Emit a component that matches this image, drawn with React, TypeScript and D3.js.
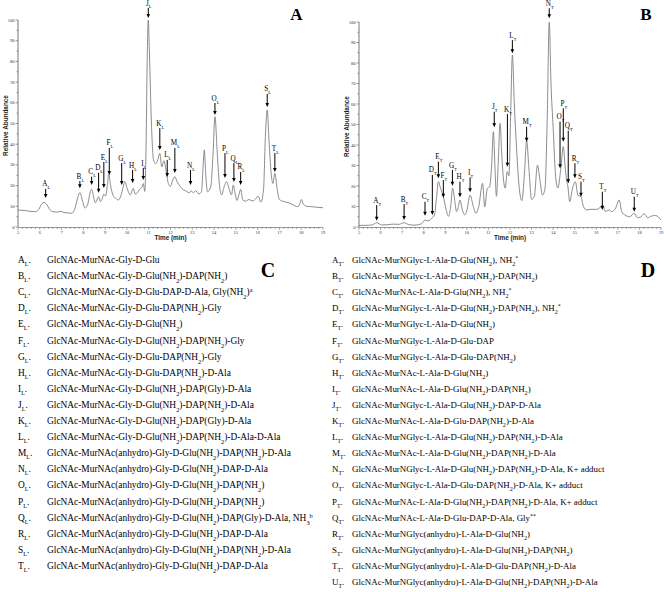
import React from 'react';
import * as d3 from 'd3';

// ---------- data ----------
const timeTicks = [5, 6, 7, 8, 9, 10, 11, 12, 13, 14, 15, 16, 17, 18, 19];
const abundanceTicks = [0, 10, 20, 30, 40, 50, 60, 70, 80, 90, 100];

// chromatogram A: [time (min), relative abundance]
const traceA: [number, number][] = [
  [5.0, 8.2], [5.3, 8.0], [5.6, 7.5], [5.8, 7.4], [5.95, 8.5], [6.1, 11.3], [6.2, 11.9], [6.3, 11.2],
  [6.45, 8.5], [6.6, 7.4], [6.8, 7.2], [6.97, 7.6], [7.1, 7.0], [7.3, 6.8], [7.46, 6.6], [7.6, 8.5],
  [7.75, 14.5], [7.84, 16.6], [7.95, 13], [8.07, 9.2], [8.2, 11], [8.32, 17], [8.38, 18.2], [8.48, 14],
  [8.56, 11.7], [8.64, 13.5], [8.7, 14.6], [8.78, 12.3], [8.86, 13.5], [8.94, 15.8], [9.02, 15], [9.1, 20],
  [9.17, 25.6], [9.25, 20], [9.4, 14.6], [9.5, 13.8], [9.6, 13], [9.7, 14.5], [9.8, 18], [9.9, 21.9],
  [10.0, 19], [10.15, 15.5], [10.29, 18.7], [10.38, 15.9], [10.48, 16.5], [10.58, 18.2], [10.68, 19],
  [10.75, 21], [10.82, 17.2], [10.88, 40], [10.93, 80], [10.98, 100], [11.03, 85], [11.13, 48.5],
  [11.22, 32.4], [11.32, 30.6], [11.42, 32.4], [11.51, 35.6], [11.6, 29], [11.7, 32], [11.8, 27],
  [11.9, 21], [12.0, 19.6], [12.08, 22], [12.2, 24.3], [12.3, 22], [12.45, 19.5], [12.6, 17.9],
  [12.75, 17.2], [12.85, 16.5], [12.95, 17.5], [13.05, 16.5], [13.15, 17.6], [13.3, 16], [13.42, 17],
  [13.5, 30], [13.55, 37.2], [13.62, 25], [13.7, 17], [13.85, 19.5], [13.95, 35], [14.04, 53.3],
  [14.15, 35], [14.25, 20], [14.35, 15.5], [14.45, 19], [14.57, 21.9], [14.7, 18], [14.8, 15.5],
  [14.88, 20.3], [14.97, 16], [15.05, 12.8], [15.15, 16], [15.22, 18.2], [15.32, 13], [15.45, 12.5],
  [15.6, 13.3], [15.75, 12.6], [15.9, 13.5], [16.02, 14.9], [16.15, 12], [16.27, 18], [16.36, 45],
  [16.44, 56.5], [16.52, 42], [16.62, 26], [16.7, 21], [16.79, 25.9], [16.9, 18], [17.0, 13.3],
  [17.2, 12.3], [17.45, 11.6], [17.7, 10.3], [17.85, 9.8], [17.93, 11], [18.01, 13.3], [18.1, 11],
  [18.25, 10], [18.5, 9.8], [18.75, 9.5], [19.0, 9.3],
];

// chromatogram B
const traceB: [number, number][] = [
  [5.0, 0.8], [5.3, 0.8], [5.6, 1.0], [5.82, 2.1], [6.05, 1.0], [6.3, 1.1], [6.6, 1.4], [6.85, 1.3],
  [7.09, 2.1], [7.3, 1.2], [7.6, 0.9], [7.9, 1.6], [8.06, 3.4], [8.2, 3.0], [8.37, 4.2], [8.5, 5.9],
  [8.6, 15], [8.68, 22.1], [8.78, 19], [8.91, 14.8], [9.05, 8], [9.15, 5.2], [9.25, 10], [9.34, 18.9],
  [9.45, 12], [9.52, 7.5], [9.6, 9.5], [9.68, 13.2], [9.8, 8], [9.9, 5.9], [10.0, 8], [10.15, 15.6],
  [10.3, 10], [10.42, 6.7], [10.55, 10], [10.73, 21.3], [10.83, 9.9], [10.95, 18.9], [11.05, 19.5],
  [11.15, 30], [11.23, 46.5], [11.3, 30], [11.37, 15], [11.45, 30], [11.54, 50.6], [11.62, 35],
  [11.7, 22.9], [11.78, 19], [11.87, 27], [11.95, 25], [12.03, 55], [12.11, 83.9], [12.2, 60],
  [12.3, 39], [12.45, 17], [12.55, 12.9], [12.68, 28], [12.77, 42.4], [12.88, 28], [13.0, 13.5],
  [13.13, 15], [13.27, 30.2], [13.4, 22], [13.5, 15.6], [13.62, 18.5], [13.72, 50], [13.82, 100],
  [13.9, 70], [14.0, 48.8], [14.12, 24], [14.22, 19], [14.35, 28], [14.47, 39.2], [14.55, 30],
  [14.62, 22.9], [14.68, 20], [14.77, 12.3], [14.88, 18], [15.03, 22.1], [15.15, 15.5], [15.29, 14.8],
  [15.4, 10.2], [15.55, 8.3], [15.75, 8.6], [15.95, 8.6], [16.1, 8.8], [16.3, 10.8], [16.42, 7.6],
  [16.6, 8.3], [16.72, 7.5], [16.9, 9.3], [17.06, 13.2], [17.18, 7.5], [17.32, 5.9], [17.55, 5.0],
  [17.76, 6.7], [17.9, 4.6], [18.05, 4.8], [18.22, 6.5], [18.38, 4.5], [18.55, 5.3], [18.75, 5.6],
  [19.0, 3.4],
];

// peak labels: [letter, time, arrow tip abundance, arrow tail abundance]
const peaksA: [string, number, number, number][] = [
  ['A', 6.27, 14.0, 18.4], ['B', 7.84, 18.7, 22.2], ['C', 8.38, 20.3, 24.3], ['D', 8.7, 16.6, 26.2],
  ['E', 8.94, 18.8, 31.4], ['F', 9.19, 25.1, 38.2], ['G', 9.76, 20.3, 30.9], ['H', 10.26, 21.3, 27.5],
  ['I', 10.75, 22.7, 28.5], ['J', 10.98, 101, 105.8], ['K', 11.51, 37.2, 47.8], ['L', 11.85, 24.2, 32.4],
  ['M', 12.2, 26.1, 38.2], ['N', 12.92, 20.3, 27.5], ['O', 14.04, 54.1, 59.9], ['P', 14.5, 23.7, 35.7],
  ['Q', 14.91, 21.7, 30.9], ['R', 15.22, 20.3, 26.6], ['S', 16.44, 58.0, 64.3], ['T', 16.79, 26.6, 35.7],
];
const peaksB: [string, number, number, number][] = [
  ['A', 5.82, 3.1, 10.7], ['B', 7.09, 3.4, 11.2], ['C', 8.06, 5.5, 12.3], ['D', 8.4, 5.9, 25.4],
  ['E', 8.68, 23.8, 31.9], ['F', 8.91, 14.3, 22.9], ['G', 9.33, 20.1, 27.8], ['H', 9.68, 14.5, 22.1],
  ['I', 10.15, 16.9, 24.2], ['J', 11.27, 48.6, 56.2], ['K', 11.88, 29.4, 55.1], ['L', 12.11, 84.7, 91.2],
  ['M', 12.77, 41.6, 48.9], ['N', 13.82, 101.8, 106.7], ['O', 14.32, 28.6, 51.4], ['P', 14.47, 41.6, 57.9],
  ['Q', 14.7, 21.3, 47], ['R', 15.01, 23.8, 31.1], ['S', 15.29, 14.8, 22.1], ['T', 16.28, 8.3, 17.2],
  ['U', 17.76, 7.5, 14.8],
];

// tables
const lettersC = ['A','B','C','D','E','F','G','H','I','J','K','L','M','N','O','P','Q','R','S','T'];
const descC = [
  'GlcNAc-MurNAc-Gly-D-Glu',
  'GlcNAc-MurNAc-Gly-D-Glu(NH_{2})-DAP(NH_{2})',
  'GlcNAc-MurNAc-Gly-D-Glu-DAP-D-Ala, Gly(NH_{2})^{a}',
  'GlcNAc-MurNAc-Gly-D-Glu-DAP(NH_{2})-Gly',
  'GlcNAc-MurNAc-Gly-D-Glu(NH_{2})',
  'GlcNAc-MurNAc-Gly-D-Glu(NH_{2})-DAP(NH_{2})-Gly',
  'GlcNAc-MurNAc-Gly-D-Glu-DAP(NH_{2})-Gly',
  'GlcNAc-MurNAc-Gly-D-Glu-DAP(NH_{2})-D-Ala',
  'GlcNAc-MurNAc-Gly-D-Glu(NH_{2})-DAP(Gly)-D-Ala',
  'GlcNAc-MurNAc-Gly-D-Glu(NH_{2})-DAP(NH_{2})-D-Ala',
  'GlcNAc-MurNAc-Gly-D-Glu(NH_{2})-DAP(Gly)-D-Ala',
  'GlcNAc-MurNAc-Gly-D-Glu(NH_{2})-DAP(NH_{2})-D-Ala-D-Ala',
  'GlcNAc-MurNAc(anhydro)-Gly-D-Glu(NH_{2})-DAP(NH_{2})-D-Ala',
  'GlcNAc-MurNAc(anhydro)-Gly-D-Glu(NH_{2})-DAP-D-Ala',
  'GlcNAc-MurNAc(anhydro)-Gly-D-Glu(NH_{2})-DAP(NH_{2})',
  'GlcNAc-MurNAc(anhydro)-Gly-D-Glu(NH_{2})-DAP(NH_{2})',
  'GlcNAc-MurNAc(anhydro)-Gly-D-Glu(NH_{2})-DAP(Gly)-D-Ala, NH_{3}^{b}',
  'GlcNAc-MurNAc(anhydro)-Gly-D-Glu(NH_{2})-DAP-D-Ala',
  'GlcNAc-MurNAc(anhydro)-Gly-D-Glu(NH_{2})-DAP(NH_{2})-D-Ala',
  'GlcNAc-MurNAc(anhydro)-Gly-D-Glu(NH_{2})-DAP-D-Ala',
];
const lettersD = ['A','B','C','D','E','F','G','H','I','J','K','L','M','N','O','P','Q','R','S','T','U'];
const descD = [
  'GlcNAc-MurNGlyc-L-Ala-D-Glu(NH_{2}), NH_{2}^{*}',
  'GlcNAc-MurNGlyc-L-Ala-D-Glu(NH_{2})-DAP(NH_{2})',
  'GlcNAc-MurNAc-L-Ala-D-Glu(NH_{2}), NH_{2}^{*}',
  'GlcNAc-MurNGlyc-L-Ala-D-Glu(NH_{2})-DAP(NH_{2}), NH_{2}^{*}',
  'GlcNAc-MurNGlyc-L-Ala-D-Glu(NH_{2})',
  'GlcNAc-MurNGlyc-L-Ala-D-Glu-DAP',
  'GlcNAc-MurNGlyc-L-Ala-D-Glu-DAP(NH_{2})',
  'GlcNAc-MurNAc-L-Ala-D-Glu(NH_{2})',
  'GlcNAc-MurNAc-L-Ala-D-Glu(NH_{2})-DAP(NH_{2})',
  'GlcNAc-MurNGlyc-L-Ala-D-Glu(NH_{2})-DAP-D-Ala',
  'GlcNAc-MurNAc-L-Ala-D-Glu-DAP(NH_{2})-D-Ala',
  'GlcNAc-MurNGlyc-L-Ala-D-Glu(NH_{2})-DAP(NH_{2})-D-Ala',
  'GlcNAc-MurNAc-L-Ala-D-Glu(NH_{2})-DAP(NH_{2})-D-Ala',
  'GlcNAc-MurNGlyc-L-Ala-D-Glu(NH_{2})-DAP(NH_{2})-D-Ala, K+ adduct',
  'GlcNAc-MurNGlyc-L-Ala-D-Glu-DAP(NH_{2})-D-Ala, K+ adduct',
  'GlcNAc-MurNAc-L-Ala-D-Glu(NH_{2})-DAP(NH_{2})-D-Ala, K+ adduct',
  'GlcNAc-MurNAc-L-Ala-D-Glu-DAP-D-Ala, Gly^{**}',
  'GlcNAc-MurNGlyc(anhydro)-L-Ala-D-Glu(NH_{2})',
  'GlcNAc-MurNGlyc(anhydro)-L-Ala-D-Glu(NH_{2})-DAP(NH_{2})',
  'GlcNAc-MurNGlyc(anhydro)-L-Ala-D-Glu-DAP(NH_{2})-D-Ala',
  'GlcNAc-MurNGlyc(anhydro)-L-Ala-D-Glu(NH_{2})-DAP(NH_{2})-D-Ala',
];

// ---------- helpers ----------
const SERIF = '"Liberation Serif", "Times New Roman", serif';
const SANS = '"Liberation Sans", Arial, sans-serif';

function rich(text: string) {
  const parts = text.split(/(_\{[^}]*\}|\^\{[^}]*\})/).filter((p) => p.length > 0);
  return parts.map((p, i) => {
    if (p.startsWith('_{'))
      return <tspan key={i} baselineShift="sub" fontSize="0.68em">{p.slice(2, -1)}</tspan>;
    if (p.startsWith('^{'))
      return <tspan key={i} baselineShift="super" fontSize="0.68em">{p.slice(2, -1)}</tspan>;
    return <tspan key={i}>{p}</tspan>;
  });
}

type Props = {
  trace: [number, number][];
  peaks: [string, number, number, number][];
  sub: string;
  x0: number; x1: number; yTop: number; yBottom: number;
  panel: string; panelX: number;
};

function Chromatogram({ trace, peaks, sub, x0, x1, yTop, yBottom, panel, panelX }: Props) {
  const x = d3.scaleLinear().domain([5, 19]).range([x0, x1]);
  const y = d3.scaleLinear().domain([0, 100]).range([yBottom, yTop]);
  const line = d3.line<[number, number]>().x((d) => x(d[0])).y((d) => y(d[1])).curve(d3.curveMonotoneX);
  const minorX = d3.range(5, 19.001, 0.2);
  const minorY = d3.range(0, 100.001, 5);
  const axisColor = '#555';
  return (
    <g>
      {/* y axis */}
      <line x1={x0} x2={x0} y1={y(0)} y2={y(100)} stroke={axisColor} strokeWidth={0.8} />
      {minorY.map((v, i) => (
        <line key={'my' + i} x1={x0} x2={x0 - (v % 10 === 0 ? 2.5 : 1.5)} y1={y(v)} y2={y(v)} stroke={axisColor} strokeWidth={0.6} />
      ))}
      {abundanceTicks.map((v) => (
        <text key={'ty' + v} x={x0 - 3.5} y={y(v)} dy="0.35em" textAnchor="end" fontSize={4.5} fontFamily={SERIF} fill="#333">{v}</text>
      ))}
      <text transform={`translate(${x0 - 10},${(y(0) + y(100)) / 2 + 2}) rotate(-90)`} textAnchor="middle" fontSize={6.4} fontWeight="bold" fontFamily={SANS} fill="#222">Relative Abundance</text>
      {/* x axis */}
      <line x1={x0} x2={x1} y1={y(0) + 0.5} y2={y(0) + 0.5} stroke={axisColor} strokeWidth={0.6} />
      {minorX.map((v, i) => (
        <line key={'mx' + i} x1={x(v)} x2={x(v)} y1={y(0) + 0.5} y2={y(0) + (Math.abs(v - Math.round(v)) < 1e-6 ? 3 : 2)} stroke={axisColor} strokeWidth={0.5} />
      ))}
      {timeTicks.map((v) => (
        <text key={'tx' + v} x={x(v)} y={y(0) + 7} textAnchor="middle" fontSize={4.5} fontFamily={SERIF} fill="#333">{v}</text>
      ))}
      <text x={(x0 + x1) / 2} y={y(0) + 13} textAnchor="middle" fontSize={6.4} fontWeight="bold" fontFamily={SANS} fill="#222">Time (min)</text>
      {/* trace */}
      <path d={line(trace) || ''} fill="none" stroke="#7f7f7f" strokeWidth={0.9} />
      {/* peak annotations */}
      {peaks.map(([lab, t, tip, tail]) => {
        const px = x(t);
        const yt = y(tip);
        const yl = y(tail);
        return (
          <g key={lab}>
            <line x1={px} x2={px} y1={yl} y2={yt - 3} stroke="#000" strokeWidth={1} />
            <polygon points={`${px - 1.8},${yt - 4} ${px + 1.8},${yt - 4} ${px},${yt}`} fill="#000" />
            <text x={px + 0.5} y={yl - 2.5} textAnchor="middle" fontSize={7.2} fontFamily={SERIF} fill="#000">
              {lab}<tspan baselineShift="sub" fontSize="0.62em">{sub}</tspan>
            </text>
          </g>
        );
      })}
      <text x={panelX} y={20} textAnchor="middle" fontSize={17} fontWeight="bold" fontFamily={SERIF} fill="#000">{panel}</text>
    </g>
  );
}

function Table({ letters, desc, sub, xLabel, xDesc, size }: { letters: string[]; desc: string[]; sub: string; xLabel: number; xDesc: number; size: number }) {
  const rowY = d3.scaleLinear().domain([0, 1]).range([263, 279.1]);
  return (
    <g fontFamily={SERIF} fontSize={size} fill="#000">
      {letters.map((l, i) => (
        <g key={l}>
          <text x={xLabel} y={rowY(i)}>
            {l}<tspan baselineShift="sub" fontSize="0.65em">{sub}</tspan><tspan>.</tspan>
          </text>
          <text x={xDesc} y={rowY(i)}>{rich(desc[i])}</text>
        </g>
      ))}
    </g>
  );
}

export default function App() {
  return (
    <svg width={664} height={592} viewBox="0 0 664 592" style={{ position: 'absolute', left: 0, top: 0, background: '#fff' }}>
      <rect x={0} y={0} width={664} height={592} fill="#fff" />
      <Chromatogram trace={traceA} peaks={peaksA} sub="L" x0={18} x1={323} yTop={20} yBottom={227} panel="A" panelX={296.5} />
      <Chromatogram trace={traceB} peaks={peaksB} sub="T" x0={359} x1={661} yTop={22} yBottom={227} panel="B" panelX={646} />
      <Table letters={lettersC} desc={descC} sub="L" xLabel={18} xDesc={47} size={9.4} />
      <Table letters={lettersD} desc={descD} sub="T" xLabel={332} xDesc={352} size={8.9} />
      <text x={268} y={277} textAnchor="middle" fontSize={20} fontWeight="bold" fontFamily={SERIF}>C</text>
      <text x={648} y={277} textAnchor="middle" fontSize={20} fontWeight="bold" fontFamily={SERIF}>D</text>
    </svg>
  );
}
